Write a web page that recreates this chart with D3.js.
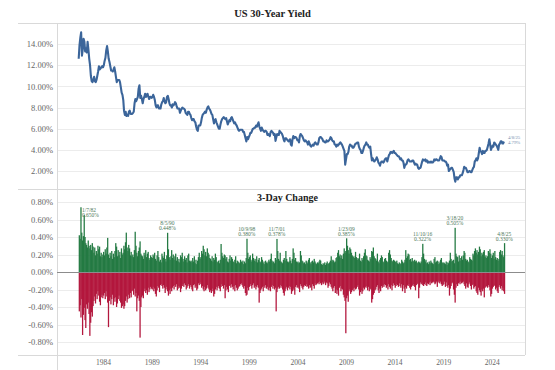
<!DOCTYPE html>
<html><head><meta charset="utf-8">
<script src="https://cdn.jsdelivr.net/npm/d3@7"></script>
<style>
html,body{margin:0;padding:0;background:#fff;}
svg{display:block;}
</style></head><body>
<svg id="chart" width="555" height="370"></svg>
<script>
// ---------------- DATA ----------------
const seriesStart = "1981-07"; // first monthly observation
// US 30-year yield (%), monthly, Jul 1981 - Apr 2025
const yields = [
 12.6,13.9,14.6,15.1,12.9,13.5,
 14.5,14.2,13.3,13.6,13.2,14.2,13.5,12.6,12.0,11.0,10.5,10.4,
 10.6,10.9,10.5,10.4,10.6,11.0,11.4,11.9,11.6,11.7,11.8,11.9,
 11.8,12.0,12.4,12.7,13.4,13.8,13.3,12.6,12.3,11.9,11.5,11.5,
 11.4,11.6,11.8,11.4,10.9,10.4,10.6,10.6,10.6,10.4,9.9,9.4,
 9.2,8.7,7.7,7.3,7.6,7.2,7.3,7.2,7.6,7.7,7.4,7.4,
 7.4,7.5,7.6,8.4,8.8,8.6,8.8,9.0,9.8,10.1,8.9,9.1,
 8.8,8.4,8.8,9.0,9.3,9.0,9.2,9.3,9.0,8.8,9.0,9.0,
 8.9,9.0,9.2,9.0,8.7,8.2,8.0,8.2,8.2,7.9,7.9,7.9,
 8.3,8.5,8.6,8.9,8.6,8.4,8.5,9.0,9.1,8.8,8.4,8.2,
 8.2,8.0,8.3,8.2,8.3,8.5,8.4,8.1,7.9,7.9,7.9,7.5,
 7.7,7.9,8.0,7.9,7.9,7.8,7.5,7.4,7.3,7.6,7.6,7.4,
 7.3,7.0,6.8,6.9,6.9,6.7,6.6,6.2,5.9,5.8,6.3,6.3,
 6.3,6.6,7.0,7.3,7.4,7.5,7.6,7.5,7.8,8.0,8.1,7.9,
 7.8,7.6,7.4,7.3,6.9,6.5,6.8,6.9,6.6,6.4,6.2,6.0,
 6.0,6.4,6.7,6.9,7.0,7.1,7.0,6.9,7.0,6.7,6.4,6.6,
 6.8,6.7,7.0,7.1,6.9,6.7,6.5,6.6,6.4,6.3,6.1,5.9,
 5.8,5.9,5.9,5.9,5.9,5.7,5.7,5.4,5.1,4.8,5.2,5.0,
 5.2,5.4,5.6,5.6,5.8,6.0,6.0,6.1,6.1,6.3,6.2,6.4,
 6.6,6.2,6.0,5.8,6.1,5.9,5.8,5.7,5.8,5.8,5.7,5.4,
 5.5,5.4,5.3,5.7,5.8,5.7,5.6,5.4,5.5,4.85,5.2,5.5,
 5.4,5.4,5.8,5.7,5.6,5.5,5.3,5.0,4.8,5.1,5.1,5.0,
 4.9,4.8,4.9,5.0,4.5,4.4,5.0,5.3,5.1,5.2,5.2,5.1,
 4.9,4.9,4.7,5.3,5.5,5.4,5.3,5.1,4.9,4.8,4.9,4.8,
 4.7,4.5,4.8,4.6,4.4,4.3,4.4,4.5,4.4,4.6,4.7,4.6,
 4.5,4.5,4.7,5.1,5.2,5.2,5.1,5.0,4.8,4.8,4.7,4.7,
 4.9,4.8,4.8,4.9,5.0,5.2,5.1,4.9,4.8,4.8,4.5,4.5,
 4.3,4.5,4.4,4.5,4.6,4.7,4.6,4.5,4.3,4.1,3.9,2.6,
 3.1,3.6,3.6,3.8,4.3,4.5,4.4,4.4,4.2,4.2,4.3,4.5,
 4.6,4.6,4.7,4.7,4.3,4.1,4.0,3.7,3.7,3.9,4.2,4.4,
 4.5,4.7,4.5,4.5,4.3,4.2,4.3,3.6,3.0,3.2,3.0,2.9,
 3.0,3.1,3.3,3.1,2.8,2.7,2.5,2.8,2.9,2.9,2.8,2.9,
 3.1,3.2,3.2,2.9,3.2,3.5,3.6,3.8,3.8,3.7,3.8,3.9,
 3.7,3.7,3.6,3.5,3.4,3.4,3.3,3.1,3.2,3.0,3.0,2.8,
 2.3,2.6,2.6,2.7,3.0,3.1,3.0,2.9,2.9,2.9,3.0,3.0,
 2.8,2.6,2.7,2.6,2.6,2.3,2.2,2.3,2.3,2.6,2.9,3.1,
 3.0,3.0,3.1,2.9,3.0,2.8,2.9,2.8,2.8,2.9,2.8,2.8,
 2.9,3.1,3.0,3.1,3.1,3.0,3.0,3.0,3.2,3.4,3.3,3.0,
 3.0,3.0,2.9,2.9,2.8,2.5,2.6,2.0,2.1,2.2,2.3,2.3,
 2.1,1.9,1.3,1.0,1.4,1.4,1.2,1.4,1.4,1.6,1.6,1.6,
 1.8,2.1,2.4,2.3,2.3,2.1,1.9,1.9,2.0,2.0,1.9,1.9,
 2.1,2.3,2.4,2.9,3.0,3.2,3.0,3.2,3.7,4.2,3.9,3.8,
 3.6,3.9,3.7,3.7,3.9,3.9,4.0,4.3,4.6,5.0,4.5,4.0,
 4.2,4.4,4.3,4.7,4.6,4.5,4.4,4.2,4.0,4.5,4.6,4.8,
 4.8,4.6,4.6,4.79
];
// Largest 3-day rise in each month (percentage points)
const rises = [
 0.42,0.38,0.74,0.45,0.36,0.41,
 0.65,0.40,0.33,0.31,0.28,0.36,0.30,0.27,0.31,0.25,0.33,0.29,
 0.22,0.28,0.19,0.24,0.21,0.30,0.26,0.29,0.18,0.22,0.17,0.20,
 0.23,0.19,0.26,0.21,0.28,0.39,0.20,0.16,0.22,0.18,0.24,0.15,
 0.21,0.17,0.24,0.33,0.29,0.18,0.25,0.19,0.23,0.16,0.27,0.20,
 0.22,0.30,0.26,0.34,0.45,0.28,0.24,0.31,0.27,0.19,0.23,0.18,
 0.20,0.17,0.25,0.46,0.30,0.22,0.18,0.24,0.28,0.35,0.21,0.19,
 0.18,0.15,0.22,0.19,0.25,0.17,0.21,0.23,0.16,0.14,0.19,0.17,
 0.16,0.20,0.18,0.22,0.15,0.13,0.19,0.24,0.17,0.12,0.14,0.11,
 0.21,0.18,0.16,0.23,0.15,0.12,0.19,0.448,0.26,0.17,0.14,0.18,
 0.25,0.16,0.20,0.14,0.18,0.21,0.13,0.17,0.12,0.15,0.11,0.19,
 0.17,0.22,0.15,0.12,0.18,0.14,0.16,0.11,0.19,0.21,0.13,0.12,
 0.13,0.11,0.16,0.12,0.18,0.10,0.14,0.09,0.13,0.17,0.22,0.15,
 0.17,0.24,0.21,0.30,0.26,0.19,0.23,0.18,0.27,0.22,0.20,0.16,
 0.15,0.13,0.18,0.12,0.16,0.14,0.21,0.17,0.12,0.11,0.13,0.10,
 0.14,0.32,0.22,0.18,0.16,0.20,0.19,0.15,0.17,0.12,0.11,0.15,
 0.19,0.13,0.17,0.15,0.12,0.11,0.14,0.18,0.10,0.13,0.12,0.11,
 0.10,0.14,0.12,0.11,0.13,0.09,0.12,0.10,0.16,0.38,0.22,0.15,
 0.17,0.19,0.14,0.12,0.21,0.16,0.13,0.15,0.12,0.18,0.11,0.14,
 0.16,0.12,0.11,0.17,0.14,0.10,0.12,0.09,0.13,0.11,0.10,0.12,
 0.14,0.12,0.15,0.21,0.13,0.11,0.12,0.10,0.16,0.14,0.378,0.24,
 0.15,0.13,0.22,0.12,0.11,0.10,0.14,0.16,0.13,0.24,0.15,0.12,
 0.11,0.12,0.17,0.13,0.10,0.15,0.27,0.22,0.14,0.16,0.12,0.11,
 0.12,0.10,0.11,0.24,0.19,0.13,0.12,0.10,0.11,0.09,0.13,0.12,
 0.10,0.14,0.16,0.11,0.09,0.12,0.13,0.11,0.15,0.12,0.10,0.09,
 0.11,0.10,0.12,0.14,0.13,0.09,0.08,0.10,0.09,0.11,0.08,0.10,
 0.12,0.09,0.10,0.11,0.13,0.18,0.12,0.14,0.13,0.11,0.12,0.16,
 0.17,0.22,0.25,0.18,0.20,0.16,0.19,0.15,0.21,0.27,0.22,0.24,
 0.385,0.30,0.25,0.21,0.28,0.26,0.22,0.19,0.17,0.18,0.16,0.23,
 0.17,0.14,0.16,0.15,0.21,0.13,0.12,0.16,0.14,0.18,0.22,0.26,
 0.19,0.18,0.14,0.13,0.12,0.17,0.15,0.24,0.23,0.28,0.18,0.16,
 0.15,0.13,0.21,0.12,0.10,0.14,0.16,0.19,0.17,0.12,0.11,0.15,
 0.16,0.13,0.12,0.11,0.22,0.25,0.20,0.16,0.13,0.12,0.14,0.13,
 0.12,0.11,0.13,0.10,0.09,0.11,0.10,0.09,0.14,0.12,0.10,0.11,
 0.14,0.25,0.16,0.18,0.21,0.20,0.14,0.15,0.12,0.16,0.13,0.12,
 0.14,0.12,0.13,0.11,0.10,0.12,0.11,0.10,0.12,0.17,0.322,0.21,
 0.15,0.12,0.14,0.10,0.11,0.09,0.12,0.10,0.13,0.11,0.10,0.09,
 0.15,0.17,0.11,0.12,0.13,0.09,0.12,0.10,0.14,0.16,0.11,0.10,
 0.11,0.10,0.09,0.12,0.08,0.11,0.10,0.13,0.22,0.15,0.12,0.13,
 0.14,0.10,0.505,0.21,0.18,0.17,0.12,0.19,0.13,0.16,0.18,0.14,
 0.19,0.24,0.22,0.15,0.13,0.14,0.12,0.11,0.17,0.15,0.14,0.13,
 0.21,0.19,0.24,0.27,0.22,0.25,0.20,0.23,0.29,0.26,0.18,0.22,
 0.20,0.23,0.25,0.17,0.19,0.16,0.18,0.24,0.22,0.26,0.21,0.16,
 0.19,0.22,0.15,0.24,0.17,0.14,0.16,0.13,0.15,0.23,0.25,0.20,
 0.24,0.19,0.17,0.33
];
// Largest 3-day fall in each month (percentage points)
const falls = [
 -0.45,-0.38,-0.52,-0.31,-0.72,-0.49,
 -0.41,-0.55,-0.64,-0.37,-0.42,-0.35,-0.48,-0.73,-0.58,-0.46,-0.51,-0.39,
 -0.33,-0.28,-0.36,-0.25,-0.31,-0.22,-0.27,-0.34,-0.38,-0.29,-0.26,-0.30,
 -0.27,-0.24,-0.31,-0.22,-0.28,-0.35,-0.63,-0.33,-0.29,-0.37,-0.31,-0.26,
 -0.38,-0.30,-0.34,-0.29,-0.40,-0.36,-0.31,-0.27,-0.33,-0.35,-0.41,-0.39,
 -0.37,-0.42,-0.39,-0.33,-0.28,-0.35,-0.31,-0.26,-0.30,-0.24,-0.29,-0.22,
 -0.21,-0.26,-0.19,-0.28,-0.24,-0.45,-0.30,-0.27,-0.33,-0.75,-0.40,-0.29,
 -0.27,-0.30,-0.22,-0.19,-0.24,-0.21,-0.26,-0.18,-0.23,-0.20,-0.17,-0.19,
 -0.20,-0.17,-0.22,-0.19,-0.25,-0.28,-0.21,-0.16,-0.18,-0.23,-0.15,-0.14,
 -0.16,-0.19,-0.15,-0.18,-0.24,-0.20,-0.17,-0.22,-0.27,-0.21,-0.25,-0.19,
 -0.22,-0.18,-0.16,-0.20,-0.15,-0.17,-0.14,-0.21,-0.19,-0.16,-0.18,-0.23,
 -0.19,-0.16,-0.14,-0.17,-0.13,-0.15,-0.20,-0.18,-0.16,-0.14,-0.19,-0.15,
 -0.17,-0.20,-0.22,-0.15,-0.14,-0.18,-0.16,-0.21,-0.19,-0.13,-0.15,-0.12,
 -0.14,-0.18,-0.16,-0.20,-0.22,-0.17,-0.21,-0.19,-0.15,-0.18,-0.20,-0.23,
 -0.21,-0.24,-0.19,-0.22,-0.28,-0.25,-0.20,-0.17,-0.21,-0.18,-0.16,-0.19,
 -0.22,-0.17,-0.14,-0.16,-0.19,-0.15,-0.30,-0.21,-0.17,-0.20,-0.23,-0.16,
 -0.15,-0.18,-0.14,-0.17,-0.20,-0.16,-0.22,-0.15,-0.18,-0.21,-0.19,-0.17,
 -0.16,-0.14,-0.13,-0.15,-0.17,-0.19,-0.16,-0.24,-0.27,-0.26,-0.18,-0.21,
 -0.17,-0.14,-0.16,-0.19,-0.15,-0.13,-0.18,-0.16,-0.20,-0.17,-0.15,-0.18,
 -0.35,-0.24,-0.21,-0.19,-0.17,-0.22,-0.16,-0.18,-0.15,-0.19,-0.17,-0.20,
 -0.21,-0.18,-0.22,-0.17,-0.15,-0.19,-0.16,-0.20,-0.18,-0.45,-0.23,-0.19,
 -0.17,-0.19,-0.15,-0.18,-0.16,-0.20,-0.24,-0.27,-0.22,-0.19,-0.17,-0.21,
 -0.18,-0.16,-0.20,-0.17,-0.25,-0.22,-0.19,-0.21,-0.26,-0.17,-0.15,-0.18,
 -0.17,-0.19,-0.23,-0.14,-0.16,-0.18,-0.20,-0.17,-0.15,-0.16,-0.14,-0.17,
 -0.16,-0.19,-0.15,-0.18,-0.17,-0.21,-0.14,-0.16,-0.19,-0.13,-0.15,-0.14,
 -0.13,-0.12,-0.14,-0.11,-0.13,-0.15,-0.12,-0.14,-0.13,-0.11,-0.15,-0.12,
 -0.13,-0.18,-0.16,-0.12,-0.14,-0.17,-0.19,-0.22,-0.18,-0.16,-0.24,-0.20,
 -0.25,-0.21,-0.27,-0.18,-0.16,-0.22,-0.19,-0.20,-0.26,-0.29,-0.33,-0.70,
 -0.30,-0.27,-0.34,-0.22,-0.20,-0.25,-0.23,-0.21,-0.19,-0.22,-0.18,-0.20,
 -0.19,-0.17,-0.15,-0.20,-0.27,-0.23,-0.21,-0.25,-0.22,-0.18,-0.20,-0.17,
 -0.18,-0.16,-0.21,-0.17,-0.22,-0.19,-0.20,-0.35,-0.31,-0.26,-0.24,-0.21,
 -0.20,-0.17,-0.15,-0.21,-0.24,-0.19,-0.22,-0.16,-0.18,-0.15,-0.17,-0.14,
 -0.15,-0.18,-0.16,-0.20,-0.14,-0.17,-0.19,-0.15,-0.21,-0.16,-0.13,-0.15,
 -0.18,-0.16,-0.14,-0.15,-0.17,-0.13,-0.16,-0.18,-0.14,-0.22,-0.15,-0.19,
 -0.24,-0.17,-0.19,-0.15,-0.16,-0.14,-0.18,-0.20,-0.17,-0.15,-0.16,-0.14,
 -0.17,-0.21,-0.15,-0.14,-0.13,-0.30,-0.18,-0.12,-0.14,-0.13,-0.15,-0.16,
 -0.14,-0.12,-0.15,-0.16,-0.13,-0.14,-0.12,-0.15,-0.11,-0.13,-0.12,-0.11,
 -0.12,-0.14,-0.13,-0.11,-0.17,-0.12,-0.10,-0.13,-0.11,-0.14,-0.16,-0.15,
 -0.14,-0.11,-0.17,-0.12,-0.16,-0.18,-0.15,-0.27,-0.19,-0.16,-0.13,-0.12,
 -0.20,-0.26,-0.35,-0.18,-0.14,-0.16,-0.13,-0.12,-0.14,-0.11,-0.13,-0.12,
 -0.11,-0.14,-0.16,-0.19,-0.13,-0.17,-0.18,-0.14,-0.12,-0.16,-0.20,-0.15,
 -0.14,-0.19,-0.17,-0.16,-0.22,-0.24,-0.26,-0.18,-0.21,-0.23,-0.27,-0.20,
 -0.22,-0.19,-0.29,-0.18,-0.17,-0.16,-0.18,-0.15,-0.17,-0.21,-0.28,-0.25,
 -0.19,-0.17,-0.16,-0.15,-0.20,-0.18,-0.22,-0.24,-0.17,-0.15,-0.19,-0.16,
 -0.21,-0.18,-0.22,-0.25
];
const yieldTicks = [2, 4, 6, 8, 10, 12, 14];
const changeTicks = [-0.8, -0.6, -0.4, -0.2, 0, 0.2, 0.4, 0.6, 0.8];
const yearTicks = [1984, 1989, 1994, 1999, 2004, 2009, 2014, 2019, 2024];
const annDates = ["1982-01-07","1990-08-05","1998-10-09","2001-11-07","2009-01-23","2016-11-10","2020-03-18","2025-04-08"];
const annLabels = ["1/7/82","8/5/90","10/9/98","11/7/01","1/23/09","11/10/16","3/18/20","4/8/25"];
const annValues = [0.650, 0.448, 0.380, 0.378, 0.385, 0.322, 0.505, 0.330];
const lastLabel = "4/8/25";
const lastYield = 4.79;
const title1 = "US 30-Year Yield";
const title2 = "3-Day Change";

// ---------------- DRAW ----------------
const svg = d3.select("#chart");
const serif = "'Liberation Serif','Times New Roman',serif";
const cLine = "#3b659a", cUp = "#247a43", cDown = "#b3173d", cGrid = "#ececec", cBorder = "#d9d9d9", cText = "#666";

const start = d3.timeParse("%Y-%m")(seriesStart);
const dates = yields.map((_, i) => d3.timeMonth.offset(start, i));

const x = d3.scaleTime().domain([new Date(1979, 3, 8), new Date(2027, 5, 2)]).range([57, 525]);
const yTop = d3.scaleLinear().domain([0, 16]).range([192.2, 22.8]);
const yBot = d3.scaleLinear().domain([-0.8, 0.8]).range([342, 202]);
const [xl, xr] = x.range();

// frame lines
const frame = svg.append("g").attr("stroke", cBorder).attr("stroke-width", 1).attr("shape-rendering", "crispEdges");
[23, 189, 355].forEach(yy => frame.append("line").attr("x1", 18).attr("x2", xr).attr("y1", yy).attr("y2", yy));
frame.append("line").attr("x1", xl).attr("x2", xl).attr("y1", 23).attr("y2", 370);
frame.append("line").attr("x1", xr).attr("x2", xr).attr("y1", 23).attr("y2", 355);

// gridlines
const grid = svg.append("g").attr("stroke", cGrid).attr("shape-rendering", "crispEdges");
yieldTicks.forEach(t => grid.append("line").attr("x1", xl + 1).attr("x2", xr).attr("y1", Math.round(yTop(t))).attr("y2", Math.round(yTop(t))));
changeTicks.filter(t => t !== 0).forEach(t => grid.append("line").attr("x1", xl + 1).attr("x2", xr).attr("y1", Math.round(yBot(t))).attr("y2", Math.round(yBot(t))));

// titles
svg.append("text").attr("x", 272.5).attr("y", 17).attr("text-anchor", "middle")
  .attr("font-family", serif).attr("font-weight", "bold").attr("font-size", 10.5).attr("fill", "#222").text(title1);
svg.append("text").attr("x", 287.5).attr("y", 201).attr("text-anchor", "middle")
  .attr("font-family", serif).attr("font-weight", "bold").attr("font-size", 10).attr("fill", "#222").text(title2);

// axes
function styleAxis(g, size) {
  g.select(".domain").remove();
  g.selectAll("line").remove();
  g.selectAll("text").attr("font-family", serif).attr("font-size", size).attr("fill", cText);
}
svg.append("g").attr("transform", "translate(53,0)")
  .call(d3.axisLeft(yTop).tickValues(yieldTicks).tickSize(0).tickPadding(0).tickFormat(d => d.toFixed(2) + "%"))
  .call(g => styleAxis(g, 8.5));
svg.append("g").attr("transform", "translate(53,0)")
  .call(d3.axisLeft(yBot).tickValues(changeTicks).tickSize(0).tickPadding(0).tickFormat(d => d.toFixed(2) + "%"))
  .call(g => styleAxis(g, 8.5));
svg.append("g").attr("transform", "translate(0,355)")
  .call(d3.axisBottom(x).tickValues(yearTicks.map(yr => new Date(yr, 0, 1))).tickSize(0).tickPadding(5).tickFormat(d3.timeFormat("%Y")))
  .call(g => styleAxis(g, 7.5));

// yield line
const line = d3.line().x((d, i) => x(dates[i])).y(d => yTop(d)).curve(d3.curveLinear);
svg.append("path").datum(yields).attr("d", line).attr("fill", "none")
  .attr("stroke", cLine).attr("stroke-width", 2.1).attr("stroke-linejoin", "round");
const lastX = x(dates[dates.length - 1]);
const lastG = svg.append("g").attr("font-family", serif).attr("font-size", 4.8).attr("fill", "#7891b0");
lastG.append("text").attr("x", lastX + 4).attr("y", yTop(lastYield) - 2).text(lastLabel);
lastG.append("text").attr("x", lastX + 4).attr("y", yTop(lastYield) + 3).text(lastYield.toFixed(2) + "%");

// 3-day change bars
const barW = x(d3.timeMonth.offset(start, 1)) - x(start);
svg.append("g").selectAll("rect").data(rises).join("rect")
  .attr("x", (d, i) => x(dates[i])).attr("width", barW + 0.45)
  .attr("y", d => yBot(d)).attr("height", d => yBot(0) - yBot(d)).attr("fill", cUp);
svg.append("g").selectAll("rect").data(falls).join("rect")
  .attr("x", (d, i) => x(dates[i])).attr("width", barW + 0.45)
  .attr("y", yBot(0)).attr("height", d => yBot(d) - yBot(0)).attr("fill", cDown);
svg.append("line").attr("x1", xl).attr("x2", xr).attr("y1", Math.round(yBot(0))).attr("y2", Math.round(yBot(0)))
  .attr("stroke", "#8c8c8c").attr("shape-rendering", "crispEdges");

// annotations
const parseDay = d3.timeParse("%Y-%m-%d");
const annG = svg.append("g").attr("font-family", serif).attr("font-size", 5.5).attr("fill", "#4f7a5c");
annDates.forEach((ds, k) => {
  const cx = x(d3.timeMonth.floor(parseDay(ds))) + barW / 2;
  const top = yBot(annValues[k]);
  const first = k === 0;
  const tx = first ? cx - 2 : cx;
  const y1 = first ? top - 3 : top - 7.5;
  const t = annG.append("text").attr("text-anchor", first ? "start" : "middle");
  t.append("tspan").attr("x", tx).attr("y", y1).text(annLabels[k]);
  t.append("tspan").attr("x", tx).attr("y", y1 + 5).text(annValues[k].toFixed(3) + "%");
});
</script>
</body></html>
